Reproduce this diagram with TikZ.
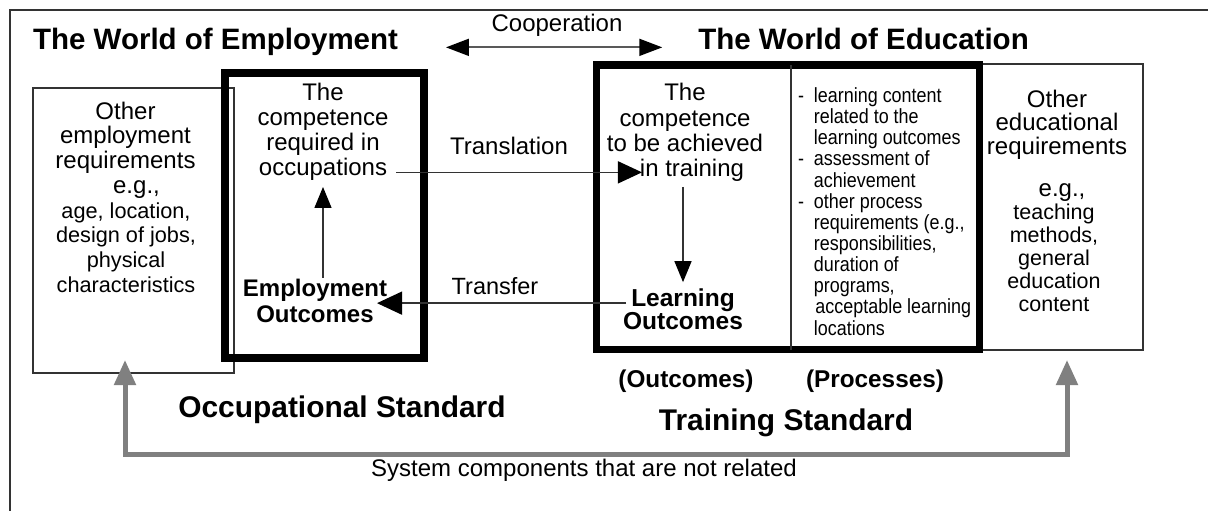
\documentclass[tikz,border=0pt]{standalone}
\usepackage{fontspec}
\setmainfont{Liberation Sans}
\newfontfamily\narrowfont[FakeStretch=0.875]{Liberation Sans}
\usetikzlibrary{arrows.meta}
\newcommand\fsz[2]{\fontsize{#1}{#2}\selectfont}
\definecolor{lineg}{HTML}{333333}
\definecolor{arrg}{HTML}{808080}
\begin{document}
\begin{tikzpicture}[x=1pt,y=-1pt,
  base/.style={inner sep=0pt, outer sep=0pt, anchor=base},
  txt/.style={base, align=center},
  thinbox/.style={draw=lineg, line width=1.3pt, inner sep=0pt, outer sep=0pt, anchor=north west},
  thickbox/.style={draw=black, line width=8pt, inner sep=0pt, outer sep=0pt, anchor=north west},
  arr/.style={draw=lineg, line width=1.5pt, -{Triangle[length=24pt,width=22pt,color=black]}},
  arrv/.style={draw=lineg, line width=1.4pt, -{Triangle[length=21pt,width=17pt,color=black]}},
  coopar/.style={draw=black!65, line width=1.8pt, {Triangle[length=23pt,width=17pt,color=black]}-{Triangle[length=23pt,width=17pt,color=black]}},
  grayar/.style={draw=arrg, line width=5pt, line join=miter, {Triangle[length=25pt,width=21pt]}-{Triangle[length=25pt,width=21pt]}},
  title/.style={txt, font=\bfseries\fsz{29.5}{30}},
  stdlab/.style={txt, font=\bfseries\fsz{29.9}{30}},
  collab/.style={txt, font=\bfseries\fsz{24.3}{25}},
  body/.style={txt, font=\fsz{24}{24.7}},
  small/.style={txt, font=\fsz{24}{24}},
]
\useasboundingbox (0,0) rectangle (1208,511);
\fill[white] (0,0) rectangle (1208,511);
\draw[lineg, line width=1.3pt] (10,511) -- (10,10) -- (1208,10);

% boxes
\node[thinbox, minimum width=201pt, minimum height=285pt] (lbox) at (33,88) {};
\node[thinbox, minimum width=163.5pt, minimum height=286pt] (rbox) at (979.5,64) {};
\node[thickbox, minimum width=199pt, minimum height=284.5pt] (obox) at (225,73) {};
\node[thickbox, line width=7.5pt, minimum width=383pt, minimum height=284.5pt] (tbox) at (596.5,65) {};
\draw[lineg, line width=1.5pt] ([xshift=194.5pt]tbox.north west) -- ([xshift=194.5pt]tbox.south west);

% titles
\node[title] (t1) at (215.5,50) {The World of Employment};
\node[title] (t2) at (863.5,50) {The World of Education};
\node[small] (coop) at (557,31.7) {Cooperation};
\draw[coopar, shorten <=48pt, shorten >=36pt] (t1.mid east) -- (t2.mid west);

% left box text
\node[body] (lreq) at (125.5,193.3) {Other\\employment\\requirements\\\hspace*{22pt}e.g.,};
\node[txt, font=\fsz{21.7}{24.7}] (lex) at (126,292.3) {age, location,\\design of jobs,\\physical\\characteristics};

% occupational standard box
\node[txt, font=\fsz{24}{24.9}] (ocomp) at (323,150) {The\\competence\\required in};
\node[small] (occ) at (323,175) {occupations};
\node[txt, font=\bfseries\fsz{24}{26}] (emp) at (315,322.3) {Employment\\Outcomes};

% training standard box
\node[txt, font=\fsz{24}{25.5}] (tcomp) at (685,151.7) {The\\competence\\to be achieved};
\node[small] (intr) at (692,176) {in training};
\node[txt, font=\bfseries\fsz{24.5}{22.6}] (learn) at (683,329) {Learning\\Outcomes};
\node[base, anchor=base west, font=\narrowfont\fsz{20.5}{21}] (procs) at (798,335) {%
\begin{tabular}[b]{@{}l@{\hspace{10pt}}l@{}}
- & learning content\\
  & related to the\\
  & learning outcomes\\
- & assessment of\\
  & achievement\\
- & other process\\
  & requirements (e.g.,\\
  & responsibilities,\\
  & duration of\\
  & programs,\\
  & \hspace*{1.5pt}acceptable learning\\
  & locations
\end{tabular}};

% right box text
\node[txt, font=\fsz{24}{23.2}] (rreq) at (1057,154) {Other\\educational\\requirements};
\node[txt, font=\fsz{21.5}{23}] (rex) at (1054,311.7) {{\fsz{24}{23}\hspace*{16pt}e.g.,}\\teaching\\methods,\\general\\education\\content};

% labels
\node[small] (trl) at (509,154) {Translation};
\node[txt, font=\fsz{23.5}{24}] (tfr) at (495,294) {Transfer};
\node[collab] (outc) at (686,387.3) {(Outcomes)};
\node[collab] (procl) at (875,387.3) {(Processes)};
\node[stdlab] (ostd) at (342,417.3) {Occupational Standard};
\node[stdlab] (tstd) at (786,430) {Training Standard};
\node[small] (sys) at (584,476.7) {System components that are not related};

% connectors
\draw[arr, shorten <=9pt, shorten >=-2pt] (occ.mid east) -- (intr.west |- occ.mid east);
\draw[arrv, shorten <=1pt, shorten >=7pt] (occ.south |- emp.north) -- (occ.south);
\draw[arrv, shorten <=6pt, shorten >=6.5pt] (learn.north |- intr.south) -- (learn.north);
\draw[draw=lineg, line width=1.5pt, -{Triangle[length=25pt,width=23pt,color=black]}, shorten <=-3pt, shorten >=-10pt]
  ([yshift=5.8pt]learn.west) -- ([yshift=5.8pt]learn.west -| emp.east);

% unrelated components
\coordinate (gL) at (125,360);
\coordinate (gR) at (1067,360);
\coordinate (gB) at (600,454);
\draw[grayar] (gL) -- (gL |- gB) -- (gR |- gB) -- (gR);
\end{tikzpicture}
\end{document}
